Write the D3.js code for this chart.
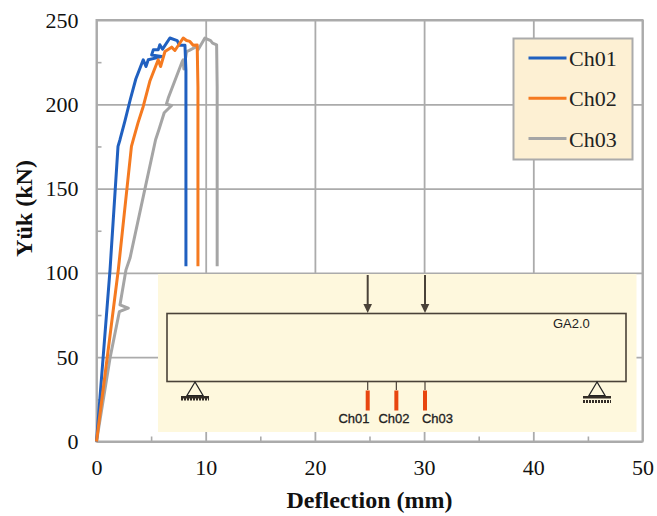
<!DOCTYPE html>
<html>
<head>
<meta charset="utf-8">
<script src="https://cdn.jsdelivr.net/npm/d3@7"></script>
<style>
  html, body { margin: 0; padding: 0; background: #fff; }
  svg { display: block; }
  .tick-label text { font-family: "Liberation Serif", serif; font-size: 22px; fill: #111; }
  .axis-title { font-family: "Liberation Serif", serif; font-size: 24px; font-weight: bold; fill: #111; }
  .legend-label { font-family: "Liberation Serif", serif; font-size: 22px; fill: #222; }
  .inset-label { font-family: "Liberation Sans", sans-serif; font-size: 13px; fill: #222; }
</style>
</head>
<body>
<div id="graph"></div>
<script>
var seriesNames = ["Ch01", "Ch02", "Ch03"];
var seriesColors = ["#2060c0", "#f57a20", "#a5a5a5"];

var ch01x = [0, 1.24, 1.97, 2.15, 2.6, 3.1, 3.6, 4.28, 4.53, 4.74, 5.96, 5.05, 5.2, 5.65, 5.8, 6.05, 6.72, 7.39, 7.6, 8.1, 8.19, 8.19];
var ch01y = [0, 102, 175, 179, 190, 203, 215, 226.4, 222.4, 226.4, 228.3, 229.3, 232.3, 232.3, 235.3, 232.7, 239.3, 237.8, 235, 235, 220, 104];

var ch02x = [0, 1.3, 2.0, 3.2, 3.37, 3.8, 4.28, 4.9, 5.65, 5.87, 6.27, 6.88, 7.18, 7.94, 8.25, 8.55, 8.85, 9.22, 9.29, 9.29];
var ch02y = [0, 66, 102, 175, 179, 189, 198.7, 214, 226.4, 222.4, 231.3, 233.9, 231.9, 239.3, 237.8, 237.3, 235, 235.2, 210, 104];

var ch03x = [0, 1.24, 2.09, 2.91, 2.15, 2.7, 3.07, 4.44, 5.41, 5.72, 6.2, 6.88, 6.4, 6.57, 7.85, 7.94, 8.0, 8.25, 8.5, 9.17, 9.3, 9.93, 10.45, 10.63, 11, 11.05, 11.05];
var ch03y = [0, 49.5, 77, 79.1, 81, 101.8, 108.8, 150, 179, 185, 195, 199.3, 200, 203.7, 225.4, 226.4, 221, 231.3, 232, 234.3, 232.3, 239.3, 237.8, 236.3, 235.3, 210, 104];

var xTicks = [0, 10, 20, 30, 40, 50];
var yTicks = [0, 50, 100, 150, 200, 250];
var xMinor = [5, 15, 25, 35, 45];
var yMinor = [25, 75, 125, 175, 225];
var gaugeNames = ["Ch01", "Ch02", "Ch03"];
var insetTitle = "GA2.0";

var width = 657;
var height = 516;
var margin = {top: 20, left: 96.5, bottom: 74.5, right: 14.5};
var innerW = width - margin.left - margin.right;
var innerH = height - margin.top - margin.bottom;
var gridColor = "#ababab";

var svg = d3.select("#graph").append("svg")
  .attr("width", width)
  .attr("height", height);

var g = svg.append("g")
  .attr("transform", "translate(" + margin.left + "," + margin.top + ")");

var x = d3.scaleLinear().domain([0, 50]).range([0, innerW]);
var y = d3.scaleLinear().domain([0, 250]).range([innerH, 0]);

// grid
var xGrid = g.append("g")
  .attr("transform", "translate(0," + innerH + ")")
  .call(d3.axisBottom(x).tickValues(xTicks).tickSize(-innerH).tickFormat(""));
var yGrid = g.append("g")
  .call(d3.axisLeft(y).tickValues(yTicks).tickSize(-innerW).tickFormat(""));
[xGrid, yGrid].forEach(function(a) {
  a.select(".domain").remove();
  a.selectAll("line").attr("stroke", gridColor).attr("stroke-width", 1.8);
});

// minor ticks, inside
var xMin = g.append("g")
  .attr("transform", "translate(0," + innerH + ")")
  .call(d3.axisBottom(x).tickValues(xMinor).tickSize(-5).tickFormat(""));
var yMin = g.append("g")
  .call(d3.axisLeft(y).tickValues(yMinor).tickSize(-5).tickFormat(""));
[xMin, yMin].forEach(function(a) {
  a.select(".domain").remove();
  a.selectAll("line").attr("stroke", gridColor).attr("stroke-width", 1.6);
});

g.append("rect")
  .attr("width", innerW)
  .attr("height", innerH)
  .attr("fill", "none")
  .attr("stroke", gridColor)
  .attr("stroke-width", 2);

// tick labels
var xLabels = g.append("g")
  .attr("class", "tick-label")
  .attr("transform", "translate(0," + innerH + ")")
  .call(d3.axisBottom(x).tickValues(xTicks).tickSize(0).tickPadding(18));
var yLabels = g.append("g")
  .attr("class", "tick-label")
  .call(d3.axisLeft(y).tickValues(yTicks).tickSize(0).tickPadding(18));
xLabels.select(".domain").remove();
yLabels.select(".domain").remove();

// schematic panel
drawInset();

// curves
var line = d3.line()
  .x(function(d) { return x(d[0]); })
  .y(function(d) { return y(d[1]); });

var curves = [
  {i: 2, xs: ch03x, ys: ch03y},
  {i: 0, xs: ch01x, ys: ch01y},
  {i: 1, xs: ch02x, ys: ch02y}
];

curves.forEach(function(c) {
  g.append("path")
    .datum(d3.zip(c.xs, c.ys))
    .attr("d", line)
    .attr("fill", "none")
    .attr("stroke", seriesColors[c.i])
    .attr("stroke-width", 3)
    .attr("stroke-linejoin", "round");
});

// axis titles
svg.append("text")
  .attr("class", "axis-title")
  .attr("text-anchor", "middle")
  .attr("x", 369.5)
  .attr("y", 508)
  .text("Deflection (mm)");

svg.append("text")
  .attr("class", "axis-title")
  .attr("text-anchor", "middle")
  .attr("transform", "translate(32,208.5) rotate(-90)")
  .attr("textLength", 97)
  .attr("lengthAdjust", "spacingAndGlyphs")
  .text("Yük (kN)");

// legend
var legend = svg.append("g");
legend.append("rect")
  .attr("x", 513.5)
  .attr("y", 38.5)
  .attr("width", 119)
  .attr("height", 121)
  .attr("fill", "#fdf0d3")
  .attr("stroke", "#ababab")
  .attr("stroke-width", 2);

var legendY = d3.scalePoint().domain(seriesNames).range([58, 138.5]);

seriesNames.forEach(function(name, i) {
  legend.append("line")
    .attr("x1", 528.5)
    .attr("x2", 566.5)
    .attr("y1", legendY(name))
    .attr("y2", legendY(name))
    .attr("stroke", seriesColors[i])
    .attr("stroke-width", 3);
  legend.append("text")
    .attr("class", "legend-label")
    .attr("x", 569)
    .attr("y", legendY(name) + 8)
    .text(name);
});

function drawInset() {
  var p = svg.append("g");
  var ink = "#4a4238";

  p.append("rect")
    .attr("x", 158)
    .attr("y", 274)
    .attr("width", 478.5)
    .attr("height", 158)
    .attr("fill", "#fef8dd");

  p.append("rect")
    .attr("x", 167)
    .attr("y", 313.5)
    .attr("width", 459)
    .attr("height", 68)
    .attr("fill", "none")
    .attr("stroke", ink)
    .attr("stroke-width", 1.6);

  // load arrows
  [367.7, 425].forEach(function(cx) {
    p.append("line")
      .attr("x1", cx).attr("x2", cx)
      .attr("y1", 275).attr("y2", 306)
      .attr("stroke", ink)
      .attr("stroke-width", 2);
    p.append("path")
      .attr("d", d3.line()([[cx - 4.3, 304], [cx + 4.3, 304], [cx, 313]]))
      .attr("fill", ink);
  });

  // supports
  [{cx: 195, top: 396, hatch: 399}, {cx: 597, top: 396, hatch: 401.5}].forEach(function(s) {
    p.append("path")
      .attr("d", d3.line()([[s.cx, 382], [s.cx - 8, 395.5], [s.cx + 8, 395.5]]) + "Z")
      .attr("fill", "none")
      .attr("stroke", "#222")
      .attr("stroke-width", 1.2);
    p.append("rect")
      .attr("x", s.cx - 14)
      .attr("y", s.top)
      .attr("width", 28)
      .attr("height", 2.5)
      .attr("fill", "#332d26");
    p.append("line")
      .attr("x1", s.cx - 14)
      .attr("x2", s.cx + 14)
      .attr("y1", s.hatch)
      .attr("y2", s.hatch)
      .attr("stroke", "#332d26")
      .attr("stroke-width", 3)
      .attr("stroke-dasharray", "2 1");
  });

  // gauges
  var gaugeX = d3.scalePoint().domain(gaugeNames).range([367.7, 425]);
  var labelX = {Ch01: 354, Ch02: 394, Ch03: 437.5};
  gaugeNames.forEach(function(name) {
    var cx = gaugeX(name);
    p.append("line")
      .attr("x1", cx).attr("x2", cx)
      .attr("y1", 382).attr("y2", 390)
      .attr("stroke", ink)
      .attr("stroke-width", 1.2);
    p.append("rect")
      .attr("x", cx - 2)
      .attr("y", 390.5)
      .attr("width", 4)
      .attr("height", 20)
      .attr("fill", "#e8460f");
    p.append("text")
      .attr("class", "inset-label")
      .attr("text-anchor", "middle")
      .attr("x", labelX[name])
      .attr("y", 422.7)
      .style("stroke", "#222")
      .style("stroke-width", 0.3)
      .text(name);
  });

  p.append("text")
    .attr("class", "inset-label")
    .attr("x", 553)
    .attr("y", 328)
    .text(insetTitle);
}
</script>
</body>
</html>
